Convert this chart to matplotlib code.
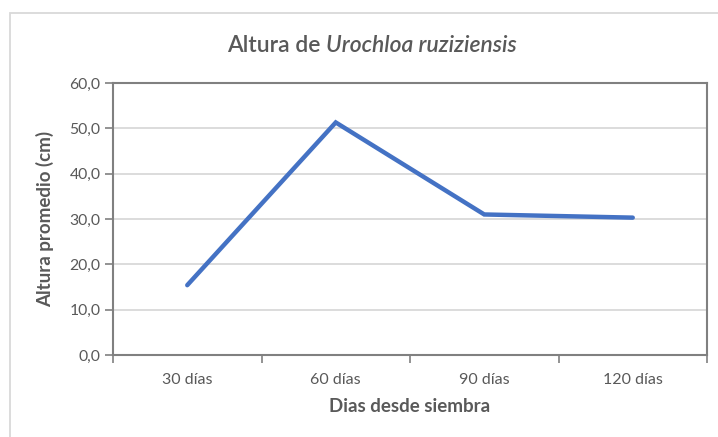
import matplotlib
matplotlib.use("Agg")
import matplotlib.pyplot as plt
from matplotlib.patches import Rectangle
from matplotlib.ticker import FuncFormatter

plt.rcParams['font.family'] = ['Lato', 'DejaVu Sans']

categorias = ['30 días', '60 días', '90 días', '120 días']
altura = [15.4, 51.3, 31.0, 30.3]
yticks = [0, 10, 20, 30, 40, 50, 60]

gris = '#595959'
eje = '#808080'

fig = plt.figure(figsize=(7.18, 4.37), dpi=100)
ax = fig.add_axes([113/718, 1-355/437, (707-113)/718, (355-83)/437])

x = list(range(len(categorias)))
ax.plot(x, altura, color='#4472C4', lw=3.2, solid_capstyle='round', solid_joinstyle='miter', zorder=3)

ax.set_xlim(-0.5, len(categorias)-0.5)
ax.set_ylim(0, 60)
ax.set_yticks(yticks)
ax.yaxis.set_major_formatter(FuncFormatter(lambda v, p: f'{v:.1f}'.replace('.', ',')))
ax.grid(axis='y', color='#D9D9D9', lw=1.3, zorder=0)
ax.set_axisbelow(True)

ax.set_xticks(x)
ax.set_xticklabels(categorias)
ax.set_xticks([i-0.5 for i in range(len(categorias)+1)], minor=True)
ax.tick_params(axis='x', which='major', length=0, pad=13, labelsize=11.5, labelcolor=gris)
ax.tick_params(axis='x', which='minor', length=6, width=1.2, color=eje, direction='out')
ax.tick_params(axis='y', length=6, width=1.2, color=eje, labelsize=11.3, labelcolor=gris, pad=3)

for s in ax.spines.values():
    s.set_color(eje)
    s.set_linewidth(1.5)

ax.set_ylabel('Altura promedio (cm)', fontsize=13.5, fontweight='bold', color=gris, labelpad=11)
ax.set_xlabel('Dias desde siembra', fontsize=13.5, fontweight='bold', color=gris, labelpad=8)

# titulo con parte en cursiva
fig.canvas.draw()
r = fig.canvas.get_renderer()
t1 = fig.text(0, 1-45/437, 'Altura de ', fontsize=16.5, color=gris, fontweight='semibold', va='center')
t2 = fig.text(0, 1-45/437, 'Urochloa ruziziensis', fontsize=16.5, color=gris, fontweight='semibold', style='italic', va='center')
w1 = t1.get_window_extent(r).width
w2 = t2.get_window_extent(r).width
cx = 372
x0 = cx - (w1 + w2) / 2
t1.set_x(x0/718)
t2.set_x((x0 + w1)/718)

# borde del grafico
fig.patches.append(Rectangle((10/718, -0.1), 2, 1-13/437+0.1, transform=fig.transFigure,
                             fill=False, edgecolor='#D9D9D9', lw=1.3))

fig.savefig('out.png', dpi=100)
